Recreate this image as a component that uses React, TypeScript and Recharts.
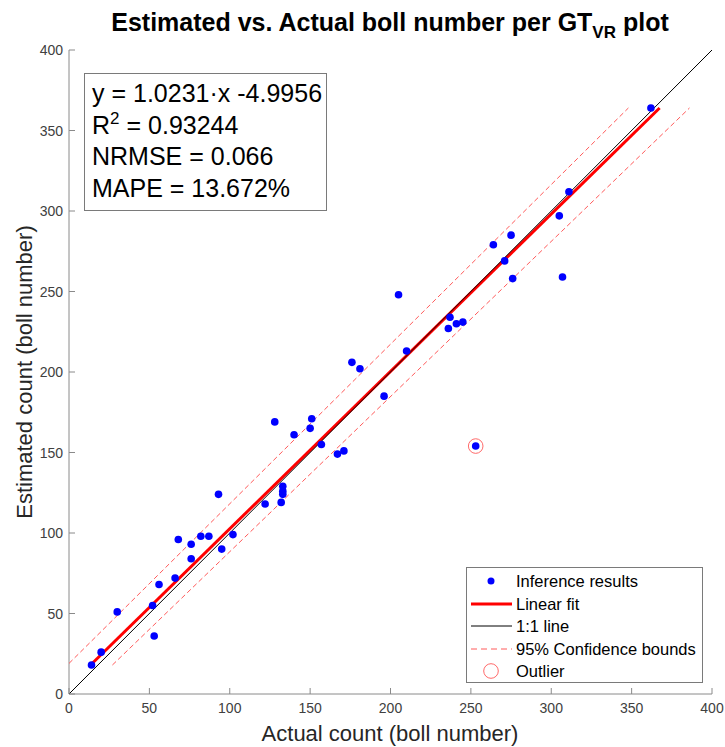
import React from "react";
import { ScatterChart, Scatter, XAxis, YAxis } from "recharts";

// actual vs. estimated boll counts per plot
const ACTUAL = [
  14, 20, 30, 52, 53, 56, 66, 68, 76, 76, 82, 87, 93, 95, 102, 122, 128, 132,
  133, 133, 133, 140, 150, 151, 157, 167, 171, 176, 181, 196, 205, 210, 236,
  237, 241, 245, 253, 264, 271, 275, 276, 305, 307, 311, 362,
];
const ESTIMATED = [
  18, 26, 51, 55, 36, 68, 72, 96, 93, 84, 98, 98, 124, 90, 99, 118, 169, 119,
  129, 126, 124, 161, 165, 171, 155, 149, 151, 206, 202, 185, 248, 213, 227,
  234, 230, 231, 154, 279, 269, 285, 258, 297, 259, 312, 364,
];

const OUTLIER_ACTUAL = [253];
const OUTLIER_ESTIMATED = [154];

// regression was run as actual = slope * estimated + intercept
const FIT_SLOPE = 1.0231;
const FIT_INTERCEPT = -4.9956;

// 95% bounds, drawn as straight segments
const UPPER_BOUND_ACTUAL = [0, 348];
const UPPER_BOUND_ESTIMATED = [19, 364];
const LOWER_BOUND_ACTUAL = [27, 386];
const LOWER_BOUND_ESTIMATED = [18, 364];

const IDENTITY = [0, 400];
const TICKS = [0, 50, 100, 150, 200, 250, 300, 350, 400];

const STATS = {
  r2: "0.93244",
  nrmse: "0.066",
  mape: "13.672%",
};

const LEGEND_LABELS = [
  "Inference results",
  "Linear fit",
  "1:1 line",
  "95% Confidence bounds",
  "Outlier",
];

const W = 725;
const H = 747;
const PLOT_LEFT = 69;
const PLOT_TOP = 50;
const PLOT_RIGHT = 712;
const PLOT_BOTTOM = 694;
const FONT = '"Liberation Sans", Arial, Helvetica, sans-serif';
const AXIS_GRAY = "#8a8a8a";
const TICK_TEXT = "#404040";
const BOUND_RED = "#ff5a5a";

const points = ACTUAL.map((a, i) => ({ x: a, y: ESTIMATED[i] }));
const outliers = OUTLIER_ACTUAL.map((a, i) => ({ x: a, y: OUTLIER_ESTIMATED[i] }));
const identity = IDENTITY.map((v) => ({ x: v, y: v }));
const estRange = [Math.min(...ESTIMATED), Math.max(...ESTIMATED)];
const fitLine = estRange.map((e) => ({ x: FIT_SLOPE * e + FIT_INTERCEPT, y: e }));
const upperBound = UPPER_BOUND_ACTUAL.map((a, i) => ({ x: a, y: UPPER_BOUND_ESTIMATED[i] }));
const lowerBound = LOWER_BOUND_ACTUAL.map((a, i) => ({ x: a, y: LOWER_BOUND_ESTIMATED[i] }));

const noShape = () => <g />;

const Dot = (props: any) => (
  <circle cx={props.cx} cy={props.cy} r={3.8} fill="#0000ff" />
);

const Ring = (props: any) => (
  <circle cx={props.cx} cy={props.cy} r={7.3} fill="none" stroke="#ff6a6a" strokeWidth={1} />
);

const XTick = (props: any) => {
  const { x, payload } = props;
  return (
    <g>
      <line x1={x} x2={x} y1={PLOT_BOTTOM} y2={PLOT_BOTTOM - 6} stroke={AXIS_GRAY} />
      <text x={x} y={PLOT_BOTTOM + 19} textAnchor="middle" fontSize={14} fill={TICK_TEXT} fontFamily={FONT}>
        {payload.value}
      </text>
    </g>
  );
};

const YTick = (props: any) => {
  const { y, payload } = props;
  return (
    <g>
      <line x1={PLOT_LEFT} x2={PLOT_LEFT + 6} y1={y} y2={y} stroke={AXIS_GRAY} />
      <text x={PLOT_LEFT - 6} y={y + 5} textAnchor="end" fontSize={14} fill={TICK_TEXT} fontFamily={FONT}>
        {payload.value}
      </text>
    </g>
  );
};

const Overlay = () => {
  const lx = 466;
  const ly = 567;
  const rowY = [581, 604, 626, 649, 671];
  return (
    <svg
      width={W}
      height={H}
      style={{ position: "absolute", left: 0, top: 0, pointerEvents: "none" }}
      fontFamily={FONT}
    >
      <text x={390} y={31} textAnchor="middle" fontSize={25} fontWeight="bold" fill="#000">
        Estimated vs. Actual boll number per GT
        <tspan fontSize={17} dy={7}>VR</tspan>
        <tspan dy={-7}> plot</tspan>
      </text>

      <text x={390} y={741} textAnchor="middle" fontSize={22} fill="#262626">
        Actual count (boll number)
      </text>
      <text
        x={0}
        y={0}
        transform={`translate(32, ${(PLOT_TOP + PLOT_BOTTOM) / 2}) rotate(-90)`}
        textAnchor="middle"
        fontSize={22}
        fill="#262626"
      >
        Estimated count (boll number)
      </text>

      {/* fit statistics */}
      <rect x={84.5} y={73.5} width={242} height={137} fill="#fff" stroke="#7a7a7a" strokeWidth={1} />
      <g fontSize={25} fill="#000">
        <text x={92} y={102}>
          y = {FIT_SLOPE.toFixed(4)}·x {FIT_INTERCEPT.toFixed(4)}
        </text>
        <text x={92} y={134}>
          R<tspan fontSize={17} dy={-10}>2</tspan>
          <tspan dy={10}> = {STATS.r2}</tspan>
        </text>
        <text x={92} y={165}>NRMSE = {STATS.nrmse}</text>
        <text x={92} y={197}>MAPE = {STATS.mape}</text>
      </g>

      {/* legend */}
      <rect x={lx + 0.5} y={ly + 0.5} width={236} height={115} fill="#fff" stroke="#7a7a7a" strokeWidth={1} />
      <circle cx={491} cy={rowY[0]} r={3.5} fill="#0000ff" />
      <line x1={471} x2={512} y1={rowY[1]} y2={rowY[1]} stroke="#ff0000" strokeWidth={3} />
      <line x1={471} x2={512} y1={rowY[2]} y2={rowY[2]} stroke="#000" strokeWidth={1} />
      <line x1={471} x2={512} y1={rowY[3]} y2={rowY[3]} stroke={BOUND_RED} strokeWidth={1} strokeDasharray="6 4" />
      <circle cx={491} cy={rowY[4]} r={7.3} fill="none" stroke="#ff6a6a" strokeWidth={1} />
      <g fontSize={16.5} fill="#000">
        {LEGEND_LABELS.map((label, i) => (
          <text key={label} x={516} y={rowY[i] + 6}>
            {label}
          </text>
        ))}
      </g>
    </svg>
  );
};

export default function App() {
  return (
    <div style={{ position: "absolute", left: 0, top: 0, width: W, height: H, background: "#fff" }}>
      <ScatterChart
        width={W}
        height={H}
        margin={{ top: PLOT_TOP, right: W - PLOT_RIGHT, bottom: 13, left: 9 }}
      >
        <XAxis
          type="number"
          dataKey="x"
          domain={[0, 400]}
          ticks={TICKS}
          interval={0}
          height={H - 13 - PLOT_BOTTOM}
          axisLine={{ stroke: AXIS_GRAY }}
          tickLine={false}
          tick={XTick}
          allowDataOverflow
        />
        <YAxis
          type="number"
          dataKey="y"
          domain={[0, 400]}
          ticks={TICKS}
          interval={0}
          width={PLOT_LEFT - 9}
          axisLine={{ stroke: AXIS_GRAY }}
          tickLine={false}
          tick={YTick}
          allowDataOverflow
        />
        <Scatter
          data={upperBound}
          line={{ stroke: BOUND_RED, strokeWidth: 1, strokeDasharray: "5 3" }}
          shape={noShape}
          isAnimationActive={false}
        />
        <Scatter
          data={lowerBound}
          line={{ stroke: BOUND_RED, strokeWidth: 1, strokeDasharray: "5 3" }}
          shape={noShape}
          isAnimationActive={false}
        />
        <Scatter
          data={fitLine}
          line={{ stroke: "#ff0000", strokeWidth: 3 }}
          shape={noShape}
          isAnimationActive={false}
        />
        <Scatter
          data={identity}
          line={{ stroke: "#000", strokeWidth: 1 }}
          shape={noShape}
          isAnimationActive={false}
        />
        <Scatter data={points} shape={Dot} isAnimationActive={false} />
        <Scatter data={outliers} shape={Ring} isAnimationActive={false} />
      </ScatterChart>
      <Overlay />
    </div>
  );
}
